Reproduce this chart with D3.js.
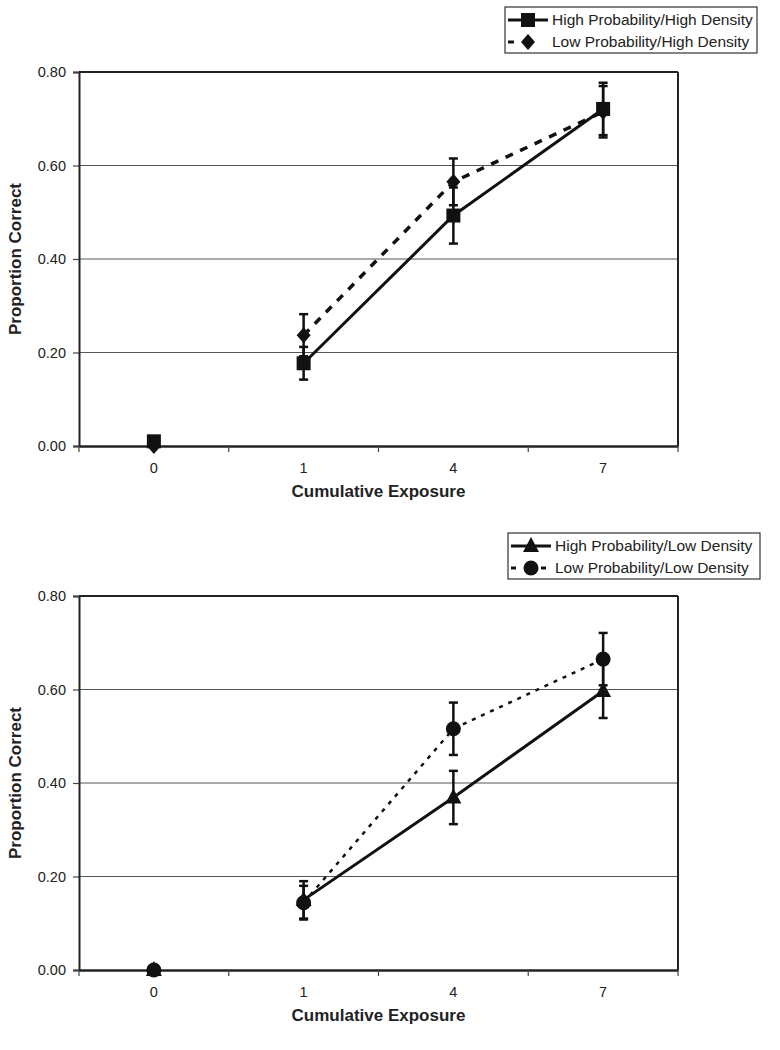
<!DOCTYPE html>
<html><head><meta charset="utf-8">
<script src="https://cdn.jsdelivr.net/npm/d3@7"></script>
<style>body{margin:0;background:#fff}svg{display:block}</style>
</head><body>
<svg id="c" width="780" height="1050"></svg>
<script>
const categories = ["0","1","4","7"];
const yTicks = [0, 0.2, 0.4, 0.6, 0.8];
const xTitle = "Cumulative Exposure";
const yTitle = "Proportion Correct";

// Top panel
const hphdValues = [0.01, 0.177, 0.493, 0.721];
const hphdErr    = [0, 0.035, 0.06, 0.056];
const lphdValues = [0.0, 0.237, 0.565, 0.715];
const lphdErr    = [0, 0.045, 0.05, 0.055];
// Bottom panel
const hpldValues = [0.0, 0.15, 0.369, 0.597];
const hpldErr    = [0, 0.04, 0.057, 0.058];
const lpldValues = [0.0, 0.144, 0.516, 0.665];
const lpldErr    = [0, 0.036, 0.056, 0.056];

const panels = [
  {top: 72, legendX: 505, legendY: 7, series: [
    {name: "High Probability/High Density", values: hphdValues, err: hphdErr, marker: "square", dash: null, width: 3, legendDash: null},
    {name: "Low Probability/High Density", values: lphdValues, err: lphdErr, marker: "diamond", dash: "8,8", width: 3.5, legendDash: [[3, 9]]}
  ], order: [1,0]},
  {top: 596, legendX: 508, legendY: 533, series: [
    {name: "High Probability/Low Density", values: hpldValues, err: hpldErr, marker: "triangle", dash: null, width: 3, legendDash: null},
    {name: "Low Probability/Low Density", values: lpldValues, err: lpldErr, marker: "circle", dash: "4,6", width: 2.5, legendDash: [[3, 8], [33, 38]]}
  ], order: [0,1]}
];

const svg = d3.select("#c");
const left = 79, right = 678, plotH = 374;
const font = "'Liberation Sans', Arial, sans-serif";

function drawMarker(g, type, x, y) {
  const c = "#111";
  if (type === "square") g.append("rect").attr("x", x-7).attr("y", y-7).attr("width", 14).attr("height", 14).attr("fill", c);
  else if (type === "diamond") g.append("path").attr("d", `M${x},${y-8}L${x+7},${y}L${x},${y+8}L${x-7},${y}Z`).attr("fill", c);
  else if (type === "triangle") g.append("path").attr("d", `M${x},${y-9}L${x+8},${y+6}L${x-8},${y+6}Z`).attr("fill", c);
  else if (type === "circle") g.append("circle").attr("cx", x).attr("cy", y).attr("r", 7.5).attr("fill", c);
}

panels.forEach(p => {
  const g = svg.append("g");
  const x = d3.scaleBand().domain(categories).range([left, right]);
  const y = d3.scaleLinear().domain([0, 0.8]).range([p.top + plotH, p.top]);

  g.selectAll(".grid").data(yTicks.filter(t => t > 0 && t < 0.8)).enter().append("line")
    .attr("x1", left).attr("x2", right).attr("y1", d => y(d)).attr("y2", d => y(d))
    .attr("stroke", "#555").attr("stroke-width", 1.2);
  g.append("line").attr("x1", left).attr("x2", right).attr("y1", y(0.8)).attr("y2", y(0.8)).attr("stroke", "#222").attr("stroke-width", 2);
  g.append("line").attr("x1", right).attr("x2", right).attr("y1", y(0.8)).attr("y2", y(0)).attr("stroke", "#222").attr("stroke-width", 2);

  const ya = g.append("g").attr("transform", `translate(${left},0)`)
    .call(d3.axisLeft(y).tickValues(yTicks).tickFormat(d3.format(".2f")).tickSize(6).tickPadding(7));
  ya.select(".domain").attr("stroke", "#222").attr("stroke-width", 2);
  ya.selectAll(".tick line").attr("stroke", "#444").attr("stroke-width", 1.2);
  ya.selectAll("text").attr("font-family", font).attr("font-size", 14.5).attr("fill", "#222");

  const xa = g.append("g").attr("transform", `translate(0,${y(0)})`)
    .call(d3.axisBottom(x).tickSize(0).tickPadding(17));
  xa.select(".domain").attr("stroke", "#222").attr("stroke-width", 2.5);
  xa.selectAll("text").attr("font-family", font).attr("font-size", 14.5).attr("fill", "#222");
  const bounds = categories.map(c => x(c)).concat([right]);
  g.selectAll(".xt").data(bounds).enter().append("line")
    .attr("x1", d => d).attr("x2", d => d).attr("y1", y(0)).attr("y2", y(0) + 6)
    .attr("stroke", "#444").attr("stroke-width", 1.2);

  g.append("text").attr("x", (left + right) / 2).attr("y", y(0) + 51).attr("text-anchor", "middle")
    .attr("font-family", font).attr("font-weight", "bold").attr("font-size", 17).attr("fill", "#222").text(xTitle);
  g.append("text").attr("transform", `translate(21,${(y(0) + y(0.8)) / 2}) rotate(-90)`).attr("text-anchor", "middle")
    .attr("font-family", font).attr("font-weight", "bold").attr("font-size", 17).attr("fill", "#222").text(yTitle);

  const cx = c => x(c) + x.bandwidth() / 2;

  p.order.forEach(i => {
    const s = p.series[i];
    const sg = g.append("g");
    const pts = categories.map((c, k) => ({c, v: s.values[k], e: s.err[k]}));
    const line = d3.line().x(d => cx(d.c)).y(d => y(d.v));
    sg.append("path").attr("d", line(pts.slice(1))).attr("fill", "none").attr("stroke", "#111")
      .attr("stroke-width", s.width).attr("stroke-dasharray", s.dash);
    pts.filter(d => d.e > 0).forEach(d => {
      const xx = cx(d.c);
      sg.append("line").attr("x1", xx).attr("x2", xx).attr("y1", y(d.v - d.e)).attr("y2", y(d.v + d.e)).attr("stroke", "#111").attr("stroke-width", 2.5);
      [d.v - d.e, d.v + d.e].forEach(v => sg.append("line").attr("x1", xx - 4.5).attr("x2", xx + 4.5).attr("y1", y(v)).attr("y2", y(v)).attr("stroke", "#111").attr("stroke-width", 2.5));
    });
    pts.forEach(d => drawMarker(sg, s.marker, cx(d.c), y(d.v)));
  });

  const lg = g.append("g").attr("transform", `translate(${p.legendX},${p.legendY})`);
  lg.append("rect").attr("x", 0).attr("y", 0).attr("width", 252).attr("height", 46).attr("fill", "#fff").attr("stroke", "#333").attr("stroke-width", 1.2);
  p.series.forEach((s, i) => {
    const ly = 13 + i * 22;
    if (s.legendDash) {
      s.legendDash.forEach(seg => lg.append("line").attr("x1", seg[0]).attr("x2", seg[1]).attr("y1", ly).attr("y2", ly).attr("stroke", "#111").attr("stroke-width", 3));
    } else {
      lg.append("line").attr("x1", 3).attr("x2", 43).attr("y1", ly).attr("y2", ly).attr("stroke", "#111").attr("stroke-width", s.width);
    }
    drawMarker(lg, s.marker, 23, ly);
    lg.append("text").attr("x", 47).attr("y", ly + 5).attr("font-family", font).attr("font-size", 15.5).attr("fill", "#222").text(s.name);
  });
});
</script>
</body></html>
